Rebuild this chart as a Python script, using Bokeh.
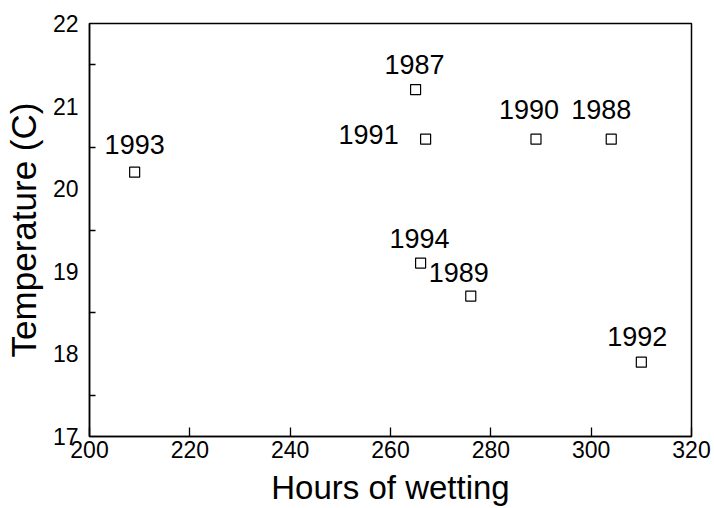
from bokeh.plotting import figure
from bokeh.models import FixedTicker, ColumnDataSource, Range1d
from bokeh.core.properties import value
from bokeh.embed import file_html
from bokeh.resources import INLINE

# ---- data ----
years = ["1987", "1988", "1989", "1990", "1991", "1992", "1993", "1994"]
hours = [265, 304, 276, 289, 267, 310, 209, 266]
temps = [21.2, 20.6, 18.7, 20.6, 20.6, 17.9, 20.2, 19.1]

x_ticks = [200, 220, 240, 260, 280, 300, 320]
y_ticks = [17, 18, 19, 20, 21, 22]
y_minor_ticks = [17.5, 18.5, 19.5, 20.5, 21.5]

# label placement (screen pixel offsets from each point)
label_dx = [-1, -10, -12, -7, -57, -4, 0, -1]
label_dy = [-25, -30, -24, -30, -5, -26, -28, -25]

FONT = "Liberation Sans"

p = figure(width=714, height=508,
           x_range=Range1d(200, 320), y_range=Range1d(17, 22),
           output_backend="svg", toolbar_location=None,
           min_border_left=88, min_border_right=23,
           min_border_top=23, min_border_bottom=69)

p.background_fill_color = "white"
p.border_fill_color = "white"
p.outline_line_color = "black"
p.outline_line_width = 1.5
p.outline_line_alpha = 1.0
p.xgrid.visible = False
p.ygrid.visible = False

# x axis
p.xaxis.ticker = FixedTicker(ticks=x_ticks)
p.xaxis.axis_label = "Hours of wetting"
p.xaxis.axis_label_text_font = FONT
p.xaxis.axis_label_text_font_size = "33px"
p.xaxis.axis_label_text_font_style = "normal"
p.xaxis.axis_label_text_color = "black"
p.xaxis.axis_label_standoff = 8
p.xaxis.major_label_text_font = FONT
p.xaxis.major_label_text_font_size = "23px"
p.xaxis.major_label_text_color = "black"
p.xaxis.major_label_standoff = 4
p.xaxis.major_tick_in = 9
p.xaxis.major_tick_out = 0
p.xaxis.minor_tick_in = 0
p.xaxis.minor_tick_out = 0
p.xaxis.major_tick_line_color = "black"
p.xaxis.major_tick_line_width = 1.3
p.xaxis.axis_line_color = "black"
p.xaxis.axis_line_width = 1.5

# y axis
p.yaxis.ticker = FixedTicker(ticks=y_ticks, minor_ticks=y_minor_ticks)
p.yaxis.axis_label = "Temperature (C)"
p.yaxis.axis_label_text_font = FONT
p.yaxis.axis_label_text_font_size = "35px"
p.yaxis.axis_label_text_font_style = "normal"
p.yaxis.axis_label_text_color = "black"
p.yaxis.axis_label_standoff = 7
p.yaxis.major_label_text_font = FONT
p.yaxis.major_label_text_font_size = "23px"
p.yaxis.major_label_text_color = "black"
p.yaxis.major_label_standoff = 11
p.yaxis.major_tick_in = 0
p.yaxis.major_tick_out = 0
p.yaxis.minor_tick_in = 6
p.yaxis.minor_tick_out = 0
p.yaxis.minor_tick_line_color = "black"
p.yaxis.minor_tick_line_width = 1.3
p.yaxis.axis_line_color = "black"
p.yaxis.axis_line_width = 1.5

src = ColumnDataSource(dict(x=hours, y=temps, t=years, dx=label_dx, dy=label_dy))

p.scatter(x="x", y="y", source=src, marker="square", size=10,
          fill_color=None, line_color="black", line_width=1.2)

p.text(x="x", y="y", text="t", x_offset="dx", y_offset="dy", source=src,
       text_font=value(FONT), text_font_size="27px",
       text_align="center", text_baseline="alphabetic", text_color="black")

open("out.html", "w").write(file_html(p, INLINE))
